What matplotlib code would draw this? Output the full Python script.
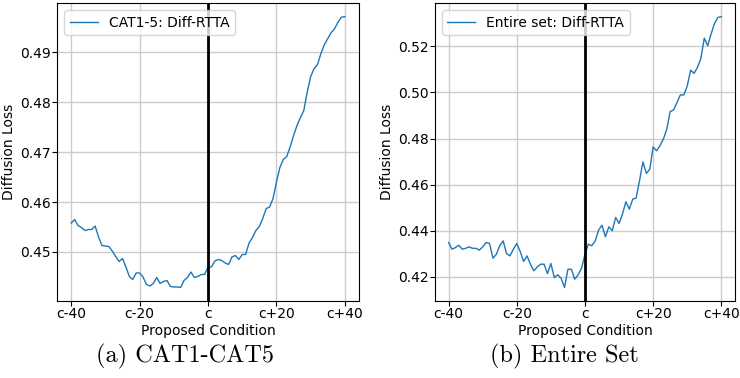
import matplotlib
matplotlib.use('Agg')
import matplotlib.pyplot as plt
import numpy as np

# proposed condition offsets from c
offsets = list(range(-40, 41))
tick_pos = [-40, -20, 0, 20, 40]
tick_labels = ['c-40', 'c-20', 'c', 'c+20', 'c+40']

# (a) CAT1-CAT5
loss_cat = [0.4558, 0.4565, 0.4553, 0.4549, 0.4543, 0.4545, 0.4545, 0.4552, 0.4530, 0.4513,
            0.4512, 0.4511, 0.4502, 0.4491, 0.4481, 0.4487, 0.4470, 0.4451, 0.4445, 0.4458,
            0.4458, 0.4450, 0.4435, 0.4432, 0.4437, 0.4449, 0.4437, 0.4441, 0.4443, 0.4431,
            0.4430, 0.4430, 0.4429, 0.4443, 0.4449, 0.4460, 0.4449, 0.4451, 0.4455, 0.4455,
            0.4470, 0.4470, 0.4482, 0.4485, 0.4483, 0.4478, 0.4475, 0.4490, 0.4493, 0.4485,
            0.4495, 0.4495, 0.4518, 0.4529, 0.4543, 0.4551, 0.4567, 0.4587, 0.4590, 0.4607,
            0.4640, 0.4669, 0.4685, 0.4691, 0.4710, 0.4733, 0.4753, 0.4769, 0.4783, 0.4820,
            0.4851, 0.4867, 0.4875, 0.4897, 0.4915, 0.4927, 0.4939, 0.4947, 0.4960, 0.4970,
            0.4971]

# (b) Entire set
loss_all = [0.4349, 0.4320, 0.4327, 0.4337, 0.4320, 0.4324, 0.4330, 0.4324, 0.4324, 0.4316,
            0.4330, 0.4349, 0.4345, 0.4281, 0.4298, 0.4335, 0.4356, 0.4301, 0.4291, 0.4320,
            0.4345, 0.4310, 0.4267, 0.4291, 0.4255, 0.4226, 0.4243, 0.4255, 0.4255, 0.4214,
            0.4258, 0.4197, 0.4209, 0.4194, 0.4154, 0.4233, 0.4233, 0.4190, 0.4209, 0.4238,
            0.4298, 0.4342, 0.4335, 0.4356, 0.4403, 0.4424, 0.4374, 0.4417, 0.4400, 0.4458,
            0.4432, 0.4472, 0.4526, 0.4494, 0.4537, 0.4542, 0.4617, 0.4699, 0.4649, 0.4667,
            0.4764, 0.4747, 0.4769, 0.4798, 0.4841, 0.4918, 0.4924, 0.4957, 0.4990, 0.4989,
            0.5029, 0.5097, 0.5083, 0.5109, 0.5148, 0.5236, 0.5203, 0.5254, 0.5300, 0.5326,
            0.5329]

panels = [
    (loss_cat, 'CAT1-5: Diff-RTTA', '(a) CAT1-CAT5', [0.0777, 0.2037, 0.4068, 0.788], 185),
    (loss_all, 'Entire set: Diff-RTTA', '(b) Entire Set', [0.5878, 0.2037, 0.4054, 0.788], 564),
]

fig = plt.figure(figsize=(7.4, 3.78), dpi=100)
for vals, label, caption, rect, cap_x in panels:
    ax = fig.add_axes(rect)
    ax.plot(offsets, vals, color='tab:blue', lw=1, label=label)
    ax.axvline(0, color='black', lw=2)
    ax.set_xticks(tick_pos)
    ax.set_xticklabels(tick_labels)
    ax.tick_params(labelsize=10, pad=1)
    ax.grid(True, color='#cccccc', lw=1)
    ax.set_xlabel('Proposed Condition', fontsize=10, labelpad=2)
    ax.set_ylabel('Diffusion Loss', fontsize=10, labelpad=3)
    ax.legend(loc='upper left', fontsize=10)
    fig.text(cap_x / 740, 0.056, caption, ha='center', va='center', fontsize=17.5, family='cmr10')

fig.savefig('out.png', dpi=100)
